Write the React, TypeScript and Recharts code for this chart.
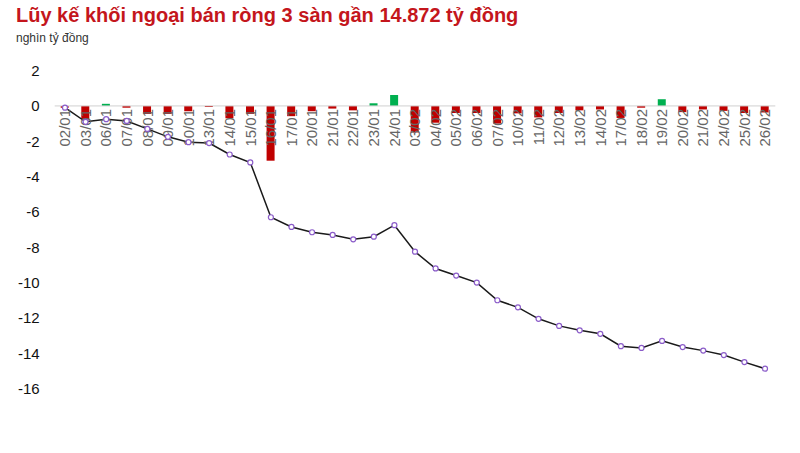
import React from 'react';
import { Bar, Cell, ComposedChart, Line, ReferenceDot, ReferenceLine, XAxis, YAxis } from 'recharts';

const dates = [
  '02/01', '03/01', '06/01', '07/01', '08/01', '09/01', '10/01', '13/01', '14/01', '15/01',
  '16/01', '17/01', '20/01', '21/01', '22/01', '23/01', '24/01', '03/02', '04/02', '05/02',
  '06/02', '07/02', '10/02', '11/02', '12/02', '13/02', '14/02', '17/02', '18/02', '19/02',
  '20/02', '21/02', '24/02', '25/02', '26/02',
];

// giá trị mua/bán ròng từng phiên (nghìn tỷ đồng)
const daily = [
  -0.1, -0.75, 0.12, -0.1, -0.45, -0.45, -0.3, -0.06, -0.7, -0.45,
  -3.1, -0.58, -0.3, -0.15, -0.25, 0.15, 0.62, -1.5, -0.95, -0.4,
  -0.4, -1.0, -0.42, -0.65, -0.4, -0.25, -0.2, -0.68, -0.1, 0.38,
  -0.35, -0.2, -0.28, -0.4, -0.37,
];

// lũy kế
const cumulative = [
  -0.1, -0.9, -0.75, -0.85, -1.3, -1.75, -2.05, -2.1, -2.75, -3.2,
  -6.3, -6.85, -7.15, -7.3, -7.55, -7.4, -6.75, -8.25, -9.2, -9.6,
  -10.0, -11.0, -11.4, -12.05, -12.45, -12.7, -12.9, -13.6, -13.7, -13.3,
  -13.65, -13.85, -14.1, -14.5, -14.872,
];

const yTicks = [2, 0, -2, -4, -6, -8, -10, -12, -14, -16];

const data = dates.map((d, i) => ({ date: d, daily: daily[i], total: cumulative[i] }));

const FONT = '"Liberation Sans", Arial, Helvetica, sans-serif';

const DateLabel = (props: any) => {
  const vb = props.viewBox || {};
  const cx = vb.x + (vb.width || 0) / 2;
  const cy = vb.y + (vb.height || 0) / 2 + 3;
  return (
    <text
      x={cx}
      y={cy}
      transform={`rotate(-90, ${cx}, ${cy})`}
      textAnchor="end"
      dy="0.35em"
      fontSize={15}
      fontFamily={FONT}
      fill="#666"
    >
      {props.date}
    </text>
  );
};

const App = () => {
  return (
    <div style={{ position: 'absolute', left: 0, top: 0, width: 800, height: 453, background: '#fff', fontFamily: FONT }}>
      <div style={{ position: 'absolute', left: 16, top: 4, fontSize: 20, fontWeight: 'bold', color: '#c4161c', whiteSpace: 'nowrap' }}>
        Lũy kế khối ngoại bán ròng 3 sàn gần 14.872 tỷ đồng
      </div>
      <div style={{ position: 'absolute', left: 16, top: 31, fontSize: 12, color: '#333' }}>
        nghìn tỷ đồng
      </div>
      <ComposedChart
        width={800}
        height={453}
        data={data}
        margin={{ top: 70.6, right: 24.7, bottom: 64.4, left: 4.7 }}
        style={{ position: 'absolute', left: 0, top: 0 }}
      >
        <XAxis dataKey="date" hide />
        <YAxis
          width={50}
          domain={[-16, 2]}
          ticks={yTicks}
          interval={0}
          axisLine={false}
          tickLine={false}
          tickMargin={9}
          tick={{ fill: '#111', fontSize: 15, fontFamily: FONT }}
        />
        <ReferenceLine y={0} stroke="#d0d0d0" strokeWidth={1} />
        <Bar dataKey="daily" barSize={8} isAnimationActive={false}>
          {data.map((d) => (
            <Cell key={d.date} fill={d.daily >= 0 ? '#00b050' : '#c00000'} />
          ))}
        </Bar>
        {dates.map((d) => (
          <ReferenceDot
            key={d}
            x={d}
            y={0}
            r={0}
            fill="none"
            stroke="none"
            label={(p: any) => <DateLabel {...p} date={d} />}
          />
        ))}
        <Line
          dataKey="total"
          stroke="#1a1a1a"
          strokeWidth={1.5}
          dot={{ r: 2.5, stroke: '#8b5cc9', strokeWidth: 1.2, fill: '#fff' }}
          isAnimationActive={false}
        />
      </ComposedChart>
    </div>
  );
};

export default App;
